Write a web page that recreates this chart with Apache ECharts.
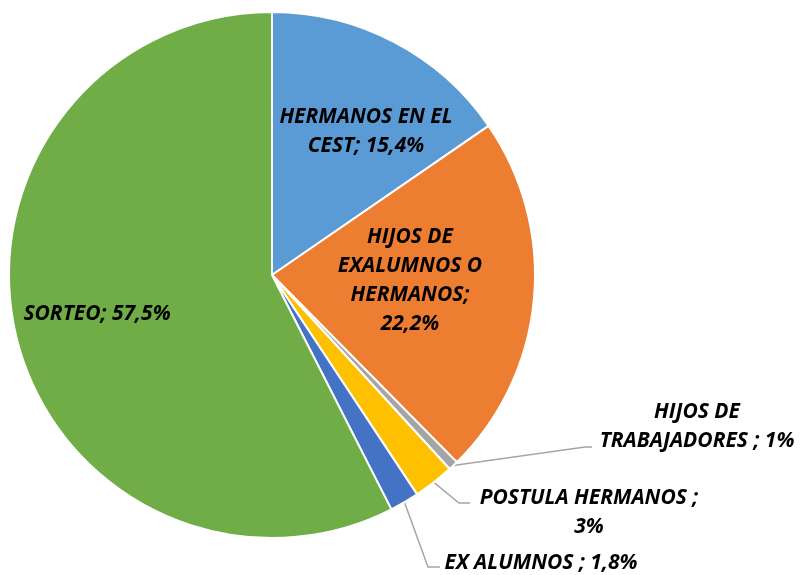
<!DOCTYPE html>
<html>
<head>
<meta charset="utf-8">
<script src="https://cdn.jsdelivr.net/npm/echarts@6/dist/echarts.min.js"></script>
<style>
    html, body {margin: 0; padding: 0; background: #fff;}
    #main {width: 804px; height: 575px;}
</style>
</head>
<body>
<div id="main"></div>
<script>
// categorias y valores
var categories = ['HERMANOS EN EL CEST', 'HIJOS DE EXALUMNOS O HERMANOS', 'HIJOS DE TRABAJADORES',
    'POSTULA HERMANOS', 'EX ALUMNOS', 'SORTEO'];
var values = [15.4, 22.2, 0.6, 2.5, 1.8, 57.5];
var labelTexts = ['HERMANOS EN EL\nCEST; 15,4%', 'HIJOS DE\nEXALUMNOS O\nHERMANOS;\n22,2%',
    'HIJOS DE\nTRABAJADORES ; 1%', 'POSTULA HERMANOS ;\n3%', 'EX ALUMNOS ; 1,8%', 'SORTEO; 57,5%'];
var colors = ['#5B9BD5', '#ED7D31', '#A5A5A5', '#FFC000', '#4472C4', '#70AD47'];

// posicion de cada etiqueta (centro del texto)
var labelPos = [
    {x: 366, y: 132},
    {x: 410, y: 281},
    {x: 697, y: 427},
    {x: 589, y: 513},
    {x: 541, y: 563},
    {x: 97, y: 314}
];
// codo y final de las lineas guia (como en excel)
var guideEnds = [
    null,
    null,
    [[585, 447], [592, 447]],
    [[459, 503], [470, 503]],
    [[428, 567], [440, 567]],
    null
];
var outside = [false, false, true, true, true, false];

var chart = echarts.init(document.getElementById('main'));

var seriesData = categories.map(function (name, i) {
    return {
        name: name,
        value: values[i],
        itemStyle: {color: colors[i]},
        label: {position: outside[i] ? 'outside' : 'inside'},
        labelLine: {show: outside[i]}
    };
});

var option = {
    animation: false,
    series: [{
        type: 'pie',
        center: [272, 275],
        radius: 263,
        startAngle: 90,
        clockwise: true,
        data: seriesData,
        itemStyle: {
            borderColor: '#fff',
            borderWidth: 2
        },
        label: {
            show: true,
            formatter: function (p) {
                return labelTexts[p.dataIndex];
            },
            color: '#000',
            fontFamily: 'Open Sans',
            fontWeight: 'bold',
            fontStyle: 'italic',
            fontSize: 21,
            lineHeight: 29,
            align: 'center'
        },
        labelLine: {
            lineStyle: {color: '#A5A5A5', width: 1.5},
            length: 20,
            length2: 10
        },
        labelLayout: function (params) {
            var i = params.dataIndex;
            var p = labelPos[i];
            var res = {
                x: p.x,
                y: p.y,
                align: 'center',
                verticalAlign: 'middle'
            };
            if (guideEnds[i] && params.labelLinePoints) {
                res.labelLinePoints = [params.labelLinePoints[0]].concat(guideEnds[i]);
            }
            return res;
        },
        emphasis: {disabled: true}
    }]
};
chart.setOption(option);
</script>
</body>
</html>
